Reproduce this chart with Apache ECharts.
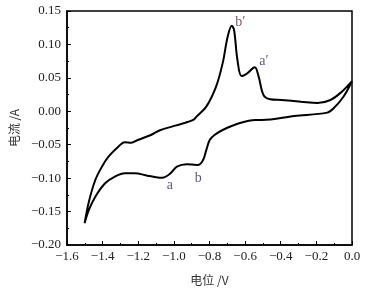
<!DOCTYPE html>
<html><head><meta charset="utf-8">
<script src="https://cdn.jsdelivr.net/npm/echarts@6/dist/echarts.min.js"></script>
<style>html,body{margin:0;padding:0;background:#fff}#c{width:389px;height:291px}</style>
</head><body><div id="c"></div>
<script>
// Cyclic voltammogram: potential (V) and current (A), loop from 0 V down to -1.5 V and back
const cathodicV = [0.0, -0.048, -0.103, -0.139, -0.323, -0.506, -0.543, -0.634, -0.726, -0.772, -0.799, -0.818, -0.836, -0.863, -0.90, -0.928, -0.983, -1.019, -1.065, -1.10, -1.148, -1.221, -1.276, -1.331, -1.386, -1.441, -1.477, -1.501];
const cathodicI = [0.045, 0.0218, 0.0045, -0.002, -0.007, -0.013, -0.013, -0.018, -0.028, -0.0355, -0.043, -0.058, -0.073, -0.0803, -0.0795, -0.0793, -0.0829, -0.0928, -0.0993, -0.0985, -0.0963, -0.0927, -0.0927, -0.0978, -0.1077, -0.1278, -0.1476, -0.1675];
const anodicV = [-1.501, -1.477, -1.441, -1.404, -1.367, -1.312, -1.276, -1.239, -1.203, -1.129, -1.074, -0.946, -0.891, -0.873, -0.818, -0.763, -0.726, -0.698, -0.675, -0.662, -0.643, -0.620, -0.588, -0.546, -0.524, -0.497, -0.460, -0.396, -0.286, -0.194, -0.121, -0.057, 0.0];
const anodicI = [-0.1675, -0.1352, -0.1028, -0.0829, -0.0679, -0.0530, -0.0464, -0.0470, -0.0429, -0.0355, -0.0280, -0.018, -0.013, -0.008, 0.007, 0.037, 0.072, 0.1116, 0.128, 0.1216, 0.0767, 0.0528, 0.0568, 0.0658, 0.0518, 0.0244, 0.018, 0.0169, 0.0144, 0.0124, 0.0169, 0.0293, 0.045];
const annoNames = ['a', 'b', 'b\u2032', 'a\u2032'];
const annoV = [-1.023, -0.863, -0.627, -0.495];
const annoI = [-0.110, -0.100, 0.1335, 0.075];
const annoColors = ['#2e3560', '#3a3050', '#5b2a4f', '#333060'];
const xTicks = [-1.6, -1.4, -1.2, -1.0, -0.8, -0.6, -0.4, -0.2, 0.0];
const yTicks = [-0.20, -0.15, -0.10, -0.05, 0.00, 0.05, 0.10, 0.15];

const loop = [];
cathodicV.forEach((v, i) => loop.push([v, cathodicI[i]]));
anodicV.forEach((v, i) => { if (i > 0) loop.push([v, anodicI[i]]); });

const serif = 'Liberation Serif';
const minus = s => s.replace('-', '\u2212');
const chart = echarts.init(document.getElementById('c'));
chart.setOption({
  animation: false,
  grid: { left: 61, right: 37, top: 11, bottom: 46, show: true, borderColor: '#000', borderWidth: 1.5, backgroundColor: 'transparent' },
  xAxis: {
    type: 'value', min: xTicks[0], max: xTicks[xTicks.length - 1], interval: 0.2,
    name: '电位 /V', nameLocation: 'middle', nameGap: 29,
    nameTextStyle: { fontFamily: 'Noto Sans CJK SC', fontSize: 12, color: '#333' },
    axisLine: { onZero: false, lineStyle: { color: '#000', width: 1.5 } },
    axisTick: { inside: true, length: 4, lineStyle: { color: '#000' } },
    minorTick: { show: true, splitNumber: 2, length: 2, lineStyle: { color: '#000' } },
    splitLine: { show: false },
    axisLabel: { fontFamily: serif, fontSize: 13, color: '#222', margin: 5,
      formatter: v => minus(v.toFixed(1)) }
  },
  yAxis: {
    type: 'value', min: yTicks[0], max: yTicks[yTicks.length - 1], interval: 0.05,
    name: '电流 /A', nameLocation: 'middle', nameGap: 44,
    nameTextStyle: { fontFamily: 'Noto Sans CJK SC', fontSize: 12, color: '#333' },
    axisLine: { onZero: false, lineStyle: { color: '#000', width: 1.5 } },
    axisTick: { inside: true, length: 4, lineStyle: { color: '#000' } },
    minorTick: { show: true, splitNumber: 2, length: 2, lineStyle: { color: '#000' } },
    splitLine: { show: false },
    axisLabel: { fontFamily: serif, fontSize: 13, color: '#222', margin: 6,
      formatter: v => minus(v.toFixed(2)) }
  },
  series: [
    { type: 'line', data: loop, smooth: 0.35, showSymbol: false,
      lineStyle: { color: '#000', width: 2 } },
    { type: 'scatter', symbolSize: 0,
      data: annoNames.map((n, i) => ({ value: [annoV[i], annoI[i]], name: n,
        label: { show: true, position: 'inside', formatter: n, color: annoColors[i],
          fontFamily: serif, fontSize: 14 } })) }
  ]
});
</script></body></html>
